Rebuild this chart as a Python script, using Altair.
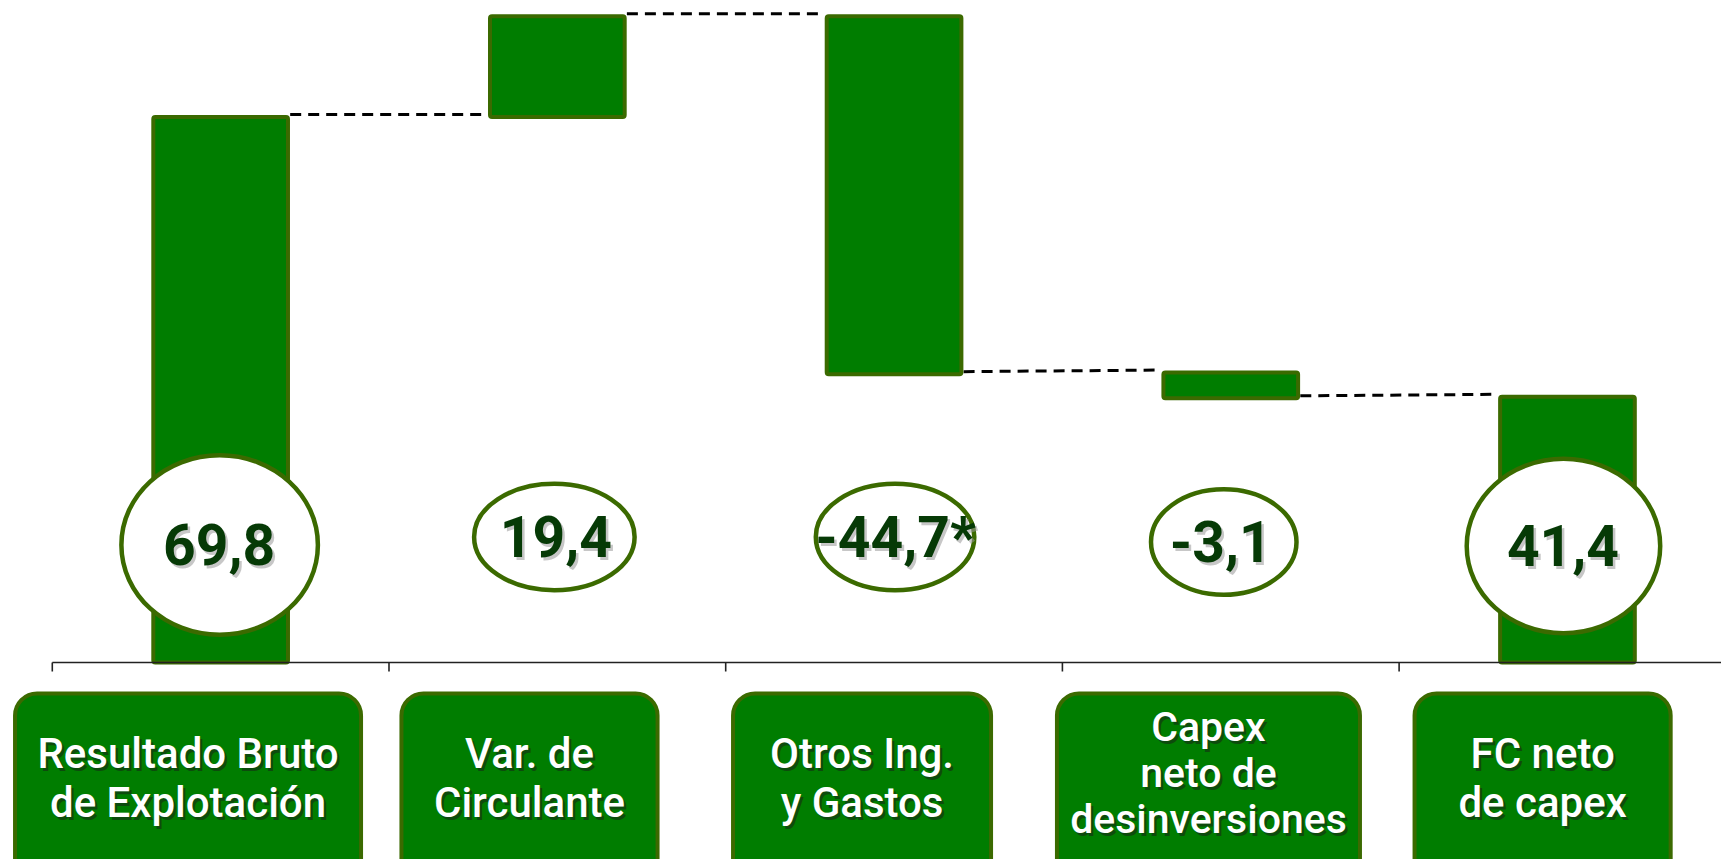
import altair as alt
import pandas as pd

# ---------------- data ----------------
label_lines = [
    ["Resultado Bruto", "de Explotación"],
    ["Var. de", "Circulante"],
    ["Otros Ing.", " y Gastos"],
    ["Capex", "neto de", "desinversiones"],
    ["FC neto", "de capex"],
]
values = [69.8, 19.4, -44.7, -3.1, 41.4]
value_notes = ["", "", "*", "", ""]
kinds = ["total", "delta", "delta", "delta", "total"]
# bar extents as drawn in the picture (value units)
bar_start = [0.0, 69.8, 82.7, 37.1, 0.0]
bar_end = [69.8, 82.7, 36.9, 33.8, 34.0]

# ---------------- layout / style ----------------
W, H = 1721, 859
STEP = 336.7            # px per category
X_MIN, X_MAX = -0.6553, 4.456
Y_ZERO_PX = 662.5
PX_PER_UNIT = 7.815
BAR_HALF = 0.2

GREEN = "#007d00"
OLIVE = "#3b6a00"
DARK = "#063a06"

ell_w = [196.5, 160.5, 158.5, 145.5, 193.5]
ell_h = [179.5, 106.5, 106.5, 105.5, 174.5]
ell_dx = [-1, -3, 1, -7, -4]
ell_cy = [545, 537, 537, 542, 546]
txt_dx = [-1.5, -1.5, 1.5, -10, -4.5]
box_left = [-205.6, -155.9, -161.0, -173.8, -152.9]
box_right = [140.4, 100.2, 97.0, 129.2, 103.2]


def py(p):
    """pixel row -> value units"""
    return (Y_ZERO_PX - p) / PX_PER_UNIT


n = len(values)
idx = list(range(n))


def ell_path(w, h):
    a, b = w / 2, h / 2
    return (f"M {-a:.2f} 0 A {a:.2f} {b:.2f} 0 1 0 {a:.2f} 0 "
            f"A {a:.2f} {b:.2f} 0 1 0 {-a:.2f} 0 Z")


df = pd.DataFrame({
    "idx": idx,
    "label": ["\n".join(l) for l in label_lines],
    "n_lines": [len(l) for l in label_lines],
    "kind": kinds,
    "value": values,
    "start": bar_start,
    "end": bar_end,
})
df["x_l"] = df["idx"] - BAR_HALF
df["x_r"] = df["idx"] + BAR_HALF
df["value_text"] = [f"{v:.1f}".replace(".", ",") + s for v, s in zip(values, value_notes)]
df["ell_x"] = [i + d / STEP for i, d in zip(idx, ell_dx)]
df["ell_y"] = [py(c) for c in ell_cy]
df["ell_path"] = [ell_path(w, h) for w, h in zip(ell_w, ell_h)]
df["txt_x"] = [i + d / STEP for i, d in zip(idx, txt_dx)]
df["txt_y"] = [py(c + 20) for c in ell_cy]
df["box_l"] = [i + d / STEP for i, d in zip(idx, box_left)]
df["box_r"] = [i + d / STEP for i, d in zip(idx, box_right)]
df["box_c"] = (df["box_l"] + df["box_r"]) / 2
df["box_top"] = py(693.5)
df["box_bot"] = py(905)
df["lab_y2"] = py(768)
df["lab_y3"] = py(741)

link_to = [s if k == "delta" else e for s, e, k in zip(bar_start, bar_end, kinds)]
conn = pd.DataFrame({
    "x": [i + BAR_HALF + 2.2 / STEP for i in idx[:-1]],
    "x2": [i + 1 - BAR_HALF - 2.2 / STEP for i in idx[:-1]],
    "y": bar_end[:-1],
    "y2": link_to[1:],
})
ticks = pd.DataFrame({"x": [i - 0.5 for i in idx], "y": 0.0, "y2": py(671.5)})
axis_df = pd.DataFrame({"x": [-0.5], "x2": [X_MAX], "y": [0.0]})

xs = alt.Scale(domain=[X_MIN, X_MAX], nice=False, zero=False)
ys = alt.Scale(domain=[py(H), py(0)], nice=False, zero=False)

base = alt.Chart(df)

connectors = alt.Chart(conn).mark_rule(
    color="black", strokeWidth=3, strokeDash=[11, 7], yOffset=-2.5, y2Offset=-2.5
).encode(
    x=alt.X("x:Q", scale=xs, axis=None), x2="x2:Q",
    y=alt.Y("y:Q", scale=ys, axis=None), y2="y2:Q",
)

bars = base.mark_rect(fill=GREEN, stroke=OLIVE, strokeWidth=4, cornerRadius=2).encode(
    x=alt.X("x_l:Q", scale=xs, axis=None), x2="x_r:Q",
    y=alt.Y("start:Q", scale=ys, axis=None), y2="end:Q",
)

axis_line = alt.Chart(axis_df).mark_rule(color="#222222", strokeWidth=1.6).encode(
    x=alt.X("x:Q", scale=xs, axis=None), x2="x2:Q",
    y=alt.Y("y:Q", scale=ys, axis=None),
)
axis_ticks = alt.Chart(ticks).mark_rule(color="#222222", strokeWidth=1.6).encode(
    x=alt.X("x:Q", scale=xs, axis=None),
    y=alt.Y("y:Q", scale=ys, axis=None), y2="y2:Q",
)

ellipses = base.mark_point(
    filled=True, fill="white", stroke=OLIVE, strokeWidth=4.5, size=4, opacity=1, fillOpacity=1
).encode(
    x=alt.X("ell_x:Q", scale=xs, axis=None),
    y=alt.Y("ell_y:Q", scale=ys, axis=None),
    shape=alt.Shape("ell_path:N", scale=None),
)

val_shadow = base.mark_text(
    font="Roboto", fontWeight="bold", fontSize=57, color="#9a9a9a", opacity=0.55,
    align="center", baseline="alphabetic", dx=2.5, dy=2.5
).encode(
    x=alt.X("txt_x:Q", scale=xs, axis=None),
    y=alt.Y("txt_y:Q", scale=ys, axis=None),
    text="value_text:N",
)
val_text = base.mark_text(
    font="Roboto", fontWeight="bold", fontSize=57, color=DARK,
    align="center", baseline="alphabetic"
).encode(
    x=alt.X("txt_x:Q", scale=xs, axis=None),
    y=alt.Y("txt_y:Q", scale=ys, axis=None),
    text="value_text:N",
)

boxes = base.mark_rect(fill=GREEN, stroke=OLIVE, strokeWidth=4, cornerRadius=22).encode(
    x=alt.X("box_l:Q", scale=xs, axis=None), x2="box_r:Q",
    y=alt.Y("box_top:Q", scale=ys, axis=None), y2="box_bot:Q",
)


def label_layer(nl, yfield, lh, size, color, dx=0, dy=0, opacity=1.0):
    return base.transform_filter(alt.datum.n_lines == nl).mark_text(
        font="Roboto", fontSize=size, fontWeight=500, color=color, opacity=opacity,
        lineBreak="\n", lineHeight=lh, align="center", baseline="alphabetic", dx=dx, dy=dy
    ).encode(
        x=alt.X("box_c:Q", scale=xs, axis=None),
        y=alt.Y(f"{yfield}:Q", scale=ys, axis=None),
        text="label:N",
    )


labels = [
    label_layer(2, "lab_y2", 49, 42, "#1a1a1a", 2.5, 2.5, 0.5),
    label_layer(3, "lab_y3", 46, 41, "#1a1a1a", 2.5, 2.5, 0.5),
    label_layer(2, "lab_y2", 49, 42, "white"),
    label_layer(3, "lab_y3", 46, 41, "white"),
]

chart = alt.layer(
    connectors, bars, axis_line, axis_ticks, ellipses, val_shadow, val_text, boxes, *labels
).properties(
    width=W, height=H, padding=0, autosize=alt.AutoSizeParams(type="none"),
    background="white",
).configure_view(stroke=None)

chart.save("out.html", embed_options={"renderer": "svg", "actions": False})
